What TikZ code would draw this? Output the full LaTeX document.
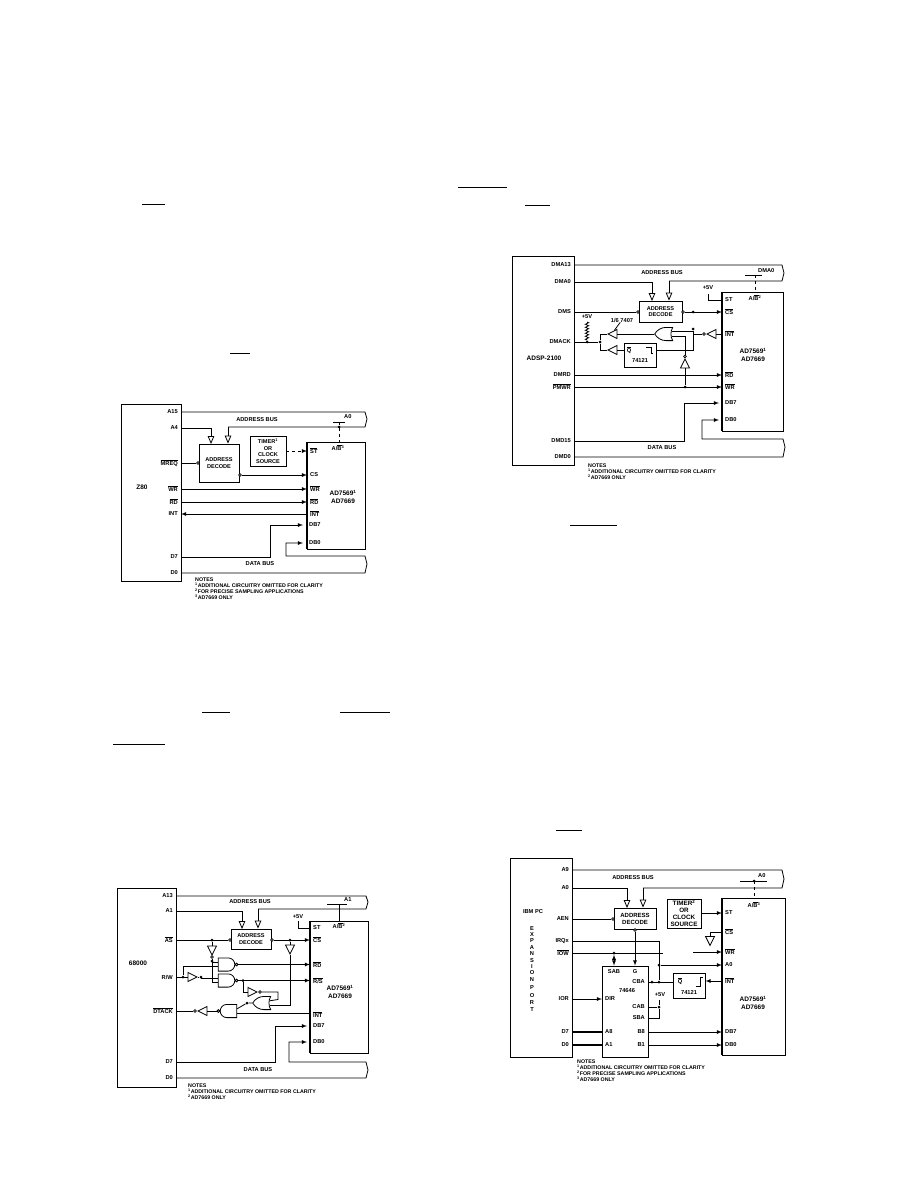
\documentclass[tikz,border=0pt]{standalone}
\usepackage{fontspec}
\setmainfont{Liberation Sans}
\usetikzlibrary{arrows,shapes,shapes.geometric,shapes.gates.logic.US,decorations.pathmorphing}
\newcommand{\ovl}[1]{$\overline{\mbox{#1}}$}

\begin{document}
\begin{tikzpicture}[
    x=1pt, y=-1pt, >=latex,
    box/.style={rectangle, draw, line width=0.9pt, inner sep=0pt, align=center, font=\bfseries\fontsize{5.6}{6.6}\selectfont},
    lab/.style={inner sep=0pt, align=center, font=\bfseries\fontsize{5.7}{6.4}\selectfont},
    cname/.style={inner sep=0pt, align=center, font=\bfseries\fontsize{6.5}{7.7}\selectfont},
    pinl/.style={label={[lab, xshift=-3pt]left:#1}},
    pinr/.style={label={[lab, xshift=3pt]right:#1}},
    wire/.style={line width=0.8pt},
    busin/.style={wire, -open triangle 45},
    dot/.style={circle, fill, inner sep=0pt, minimum size=3pt},
    bub/.style={circle, draw, fill=white, line width=0.7pt, inner sep=0pt, minimum size=2.8pt},
    buf/.style={isosceles triangle, isosceles triangle stretches, draw, line width=0.8pt, inner sep=0pt, minimum width=9pt, minimum height=9pt},
    gate/.style={draw, line width=0.8pt, inner sep=0pt, minimum width=14pt, minimum height=13pt, logic gate inputs=nn, logic gate inverted radius=1.4pt},
    notes/.style={anchor=north west, inner sep=0pt, align=left, font=\bfseries\fontsize{5.3}{5.9}\selectfont},
    frag/.style={line width=0.8pt}
  ]
    \useasboundingbox (0,0) rectangle (918,1188);
    \fill[white] (0,0) rectangle (918,1188);

    \draw[frag] (142,204) -- (165,204);
    \draw[frag] (458,187) -- (507,187);
    \draw[frag] (525,205) -- (550,205);
    \draw[frag] (230,353) -- (250,353);
    \draw[frag] (202,712) -- (230,712);
    \draw[frag] (340,712) -- (390,712);
    \draw[frag] (113,744) -- (165,744);
    \draw[frag] (570,525) -- (617,525);
    \draw[frag] (556,830) -- (582,830);

    \node[box, minimum width=60pt, minimum height=177pt] (zcpu) at (151,492.5) {};
    \node[box, minimum width=58pt, minimum height=107pt] (zad) at (336,495.5) {};
    \node[box, minimum width=40pt, minimum height=38pt] (zdec) at (219,463) {ADDRESS\\DECODE};
    \node[box, minimum width=36pt, minimum height=30pt] (ztimer) at (268,451) {TIMER\textsuperscript{1}\\OR\\CLOCK\\SOURCE};
    \node[cname] (zname) at (142,487) {Z80};
    \node[cname] (zadname) at (343,497) {AD7569\textsuperscript{1}\\AD7669};
    \node[lab] (zbusa) at (257,420) {ADDRESS BUS};
    \node[lab] (zbusd) at (260,564) {DATA BUS};
    \node[lab] (zab) at (338,448) {A/\ovl{B}\textsuperscript{3}};
    \node[notes] (znotes) at (195,578) {NOTES\\\textsuperscript{1}ADDITIONAL CIRCUITRY OMITTED FOR CLARITY\\\textsuperscript{2}FOR PRECISE SAMPLING APPLICATIONS\\\textsuperscript{3}AD7669 ONLY};
    \coordinate[pinl=A15] (zA15) at (181,412);
    \coordinate[pinl=A4] (zA4) at (181,428);
    \coordinate[pinl=\ovl{MREQ}] (zMREQ) at (181,463);
    \coordinate[pinl=\ovl{WR}] (zWRo) at (181,489);
    \coordinate[pinl=\ovl{RD}] (zRDo) at (181,502);
    \coordinate[pinl=INT] (zINTo) at (181,514);
    \coordinate[pinl=D7] (zD7) at (181,557);
    \coordinate[pinl=D0] (zD0) at (181,573);
    \coordinate[pinr=\ovl{ST}] (zST) at (307,451);
    \coordinate[pinr=CS] (zCS) at (307,475);
    \coordinate[pinr=\ovl{WR}] (zWR) at (307,489);
    \coordinate[pinr=\ovl{RD}] (zRD) at (307,502);
    \coordinate[pinr=\ovl{INT}] (zINT) at (307,514);
    \coordinate[label={[lab, xshift=6pt]right:DB7}] (zDB7) at (303,525);
    \coordinate[label={[lab, xshift=6pt]right:DB0}] (zDB0) at (303,543);
    \coordinate (zbt) at (365,412);
    \coordinate (zbb) at (365,427);
    \coordinate (zbl) at (228,427);
    \coordinate (zin) at (211,444);
    \coordinate (zdt) at (365,556);
    \coordinate (zdb) at (365,573);
    \coordinate (ztick) at (339,422);
    \node[lab, anchor=west] (ztickl) at (344,417) {A0};
    \node[bub] (zbub1) at (198,463) {};
    \node[bub] (zbub2) at (240,475) {};
    \draw[wire] (zA15) -- (zbt) -- ++(2,7) -- (zbb) -- (zbl);
    \draw[busin] (zA4) -| (zin);
    \draw[busin] (zbl) -- (zbl |- zdec.north);
    \draw[wire] ([xshift=-6pt]ztick) -- ([xshift=6pt]ztick);
    \draw[wire, dashed] (ztick) -- (ztick |- zad.north);
    \node[dot] (zdot) at (339,427) {};
    \draw[wire] (zMREQ) -- (zbub1);
    \draw[wire, ->, dashed] (ztimer.east |- zST) -- (zST);
    \draw[wire, ->] (zbub2) -- (zCS);
    \draw[wire, ->] (zWRo) -- (zWR);
    \draw[wire, ->] (zRDo) -- (zRD);
    \draw[wire, <-] (zINTo) -- (zINT);
    \draw[wire, ->] (zD7) -| (270,525) -- (zDB7);
    \draw[wire, <-] (zDB0) -| (286,556) -- (zdt) -- ++(2,8) -- (zdb) -- (zD0);
    \draw[line width=2pt] (zad.north west) -- (zad.south west);

    \node[box, minimum width=62pt, minimum height=209pt] (acpu) at (543,360.5) {};
    \node[box, minimum width=61pt, minimum height=139pt] (aad) at (752.5,361.5) {};
    \node[box, minimum width=43pt, minimum height=21pt] (adec) at (660.5,311.5) {ADDRESS\\DECODE};
    \node[box, minimum width=32pt, minimum height=24pt] (aone) at (640,355) {};
    \node[lab] (aonen) at (640,361) {74121};
    \node[lab] (aq) at (629,350) {\ovl{Q}};
    \draw[wire] (646,347) -- (651,347) -- (651,353) -- (653,353);
    \node[cname] (aname) at (544,358) {ADSP-2100};
    \node[cname] (aadname) at (753,355) {AD7569\textsuperscript{1}\\AD7669};
    \node[lab] (abusa) at (662,273) {ADDRESS BUS};
    \node[lab] (abusd) at (662,448) {DATA BUS};
    \node[lab] (aab) at (755,298) {A/\ovl{B}\textsuperscript{2}};
    \node[lab] (a5v) at (708,288) {+5V};
    \node[lab] (a5vb) at (587,317) {+5V};
    \node[lab] (a7407) at (622,320) {1/6 7407};
    \node[notes] (anotes) at (588,464) {NOTES\\\textsuperscript{1}ADDITIONAL CIRCUITRY OMITTED FOR CLARITY\\\textsuperscript{2}AD7669 ONLY};
    \coordinate[pinl=DMA13] (aA13) at (574,265);
    \coordinate[pinl=DMA0] (aA0) at (574,282);
    \coordinate[pinl=DMS] (aDMS) at (574,312);
    \coordinate[pinl=DMACK] (aACK) at (574,342);
    \coordinate[pinl=DMRD] (aDRD) at (574,375);
    \coordinate[pinl=\ovl{PMWR}] (aPWR) at (574,387);
    \coordinate[pinl=DMD15] (aD15) at (574,441);
    \coordinate[pinl=DMD0] (aD0) at (574,457);
    \coordinate[pinr=ST] (aST) at (722,300);
    \coordinate[pinr=\ovl{CS}] (aCS) at (722,312);
    \coordinate[pinr=\ovl{INT}] (aINT) at (722,334);
    \coordinate[pinr=\ovl{RD}] (aRD) at (722,375);
    \coordinate[pinr=\ovl{WR}] (aWR) at (722,387);
    \coordinate[label={[lab, xshift=6pt]right:DB7}] (aDB7) at (719,403);
    \coordinate[label={[lab, xshift=6pt]right:DB0}] (aDB0) at (719,420);
    \coordinate (abt) at (782,265);
    \coordinate (abb) at (782,281);
    \coordinate (abl) at (669,281);
    \coordinate (ain) at (652,301);
    \coordinate (adt) at (783,439);
    \coordinate (adb) at (783,457);
    \coordinate (atick) at (755,275);
    \node[lab, anchor=west] (atickl) at (758,271) {DMA0};
    \node[bub] (abub1) at (638,312) {};
    \node[bub] (abub2) at (683,312) {};
    \node[dot] (ad1) at (693,312) {};
    \node[dot] (ad2) at (587,342) {};
    \node[dot] (ad3) at (600,342) {};
    \node[dot] (ad4) at (693,329) {};
    \node[dot] (ad5) at (685,387) {};
    \node[buf, shape border rotate=180, anchor=apex] (abuf1) at (607,334) {};
    \node[buf, shape border rotate=180, anchor=apex] (abuf2) at (607,350) {};
    \node[buf, shape border rotate=180, anchor=apex] (abuf3) at (706,334) {};
    \node[bub] (abub3) at (704,334) {};
    \node[buf, shape border rotate=90, anchor=apex] (abuf4) at (685,358) {};
    \node[bub] (abub4) at (685,356.5) {};
    \node[or gate US, gate, rotate=180] (aor) at (665,334) {};
    \draw[wire] (aA13) -- (abt) -- ++(2,8) -- (abb) -- (abl);
    \draw[busin] (aA0) -| (ain);
    \draw[busin] (abl) -- (abl |- adec.north);
    \draw[wire] ([xshift=-10pt]atick) -- ([xshift=7pt]atick);
    \draw[wire, dashed] (atick) -- (atick |- aad.north);
    \draw[wire] (708,294) |- (aST);
    \draw[wire] (aDMS) -- (abub1);
    \draw[wire, ->] (abub2) -- (aCS);
    \draw[wire, decorate, decoration={zigzag, segment length=3pt, amplitude=1.6pt}] (587,322) -- (ad2);
    \draw[wire] (aACK) -- (ad3);
    \draw[wire] (ad3) |- (abuf1.apex);
    \draw[wire] (ad3) |- (abuf2.apex);
    \draw[wire] (abuf2.east) -- (aone.west |- abuf2.east);
    \draw[wire] (aor.output) -- (abuf1.east |- aor.output);
    \draw[wire] (aor.input 2) -- (ad4 |- aor.input 2);
    \draw[wire] (aor.input 1) -| (abub4);
    \draw[wire] (aone.east |- abuf2.east) -| (ad4);
    \draw[wire] (abub3) -- (693,334);
    \draw[wire] (abuf3.east) -- (aINT);
    \draw[wire] (abuf4.south) -- (ad5);
    \draw[wire, ->] (aDRD) -- (aRD);
    \draw[wire, ->] (aPWR) -- (aWR);
    \draw[wire] (a7407) -- (abuf1.north);
    \draw[wire, ->] (aD15) -| (684,403) -- (aDB7);
    \draw[wire, <-] (aDB0) -| (702,439) -- (adt) -- ++(2,8) -- (adb) -- (aD0);
    \draw[line width=1.3pt] (aad.north west) -- (aad.south west);

    \node[box, minimum width=59pt, minimum height=199pt] (mcpu) at (147,987.5) {};
    \node[box, minimum width=58pt, minimum height=132pt] (mad) at (339,987) {};
    \node[box, minimum width=40pt, minimum height=20pt] (mdec) at (251,939) {ADDRESS\\DECODE};
    \node[cname] (mname) at (138,963) {68000};
    \node[cname] (madname) at (340,992) {AD7569\textsuperscript{1}\\AD7669};
    \node[lab] (mbusa) at (250,902) {ADDRESS BUS};
    \node[lab] (mbusd) at (258,1070) {DATA BUS};
    \node[lab] (mab) at (339,926) {A/\ovl{B}\textsuperscript{2}};
    \node[lab] (m5v) at (298,917) {+5V};
    \node[notes] (mnotes) at (188,1084) {NOTES\\\textsuperscript{1}ADDITIONAL CIRCUITRY OMITTED FOR CLARITY\\\textsuperscript{2}AD7669 ONLY};
    \coordinate[pinl=A13] (mA13) at (176,896);
    \coordinate[pinl=A1] (mA1) at (176,911);
    \coordinate[pinl=\ovl{AS}] (mAS) at (176,940);
    \coordinate[pinl=R/W] (mRW) at (176,977);
    \coordinate[pinl=\ovl{DTACK}] (mDT) at (176,1011);
    \coordinate[pinl=D7] (mD7) at (176,1062);
    \coordinate[pinl=D0] (mD0) at (176,1078);
    \coordinate[pinr=ST] (mST) at (310,928);
    \coordinate[pinr=\ovl{CS}] (mCS) at (310,940);
    \coordinate[pinr=\ovl{RD}] (mRD) at (310,964.5);
    \coordinate[pinr=\ovl{R/S}] (mWR) at (310,980.5);
    \coordinate[pinr=\ovl{INT}] (mINT) at (310,1014.5);
    \coordinate[label={[lab, xshift=6pt]right:DB7}] (mDB7) at (307,1026);
    \coordinate[label={[lab, xshift=6pt]right:DB0}] (mDB0) at (307,1042);
    \coordinate (mbt) at (366,896);
    \coordinate (mbb) at (366,909);
    \coordinate (mbl) at (258,909);
    \coordinate (min) at (242,929);
    \coordinate (mdt) at (366,1062);
    \coordinate (mdb) at (366,1078);
    \coordinate (mtick) at (339,904);
    \node[lab, anchor=west] (mtickl) at (344,900) {A1};
    \node[bub] (mbub1) at (230,940) {};
    \node[bub] (mbub2) at (272,940) {};
    \node[dot] (md1) at (212,940) {};
    \node[dot] (md2) at (212,961) {};
    \node[dot] (md3) at (183,977) {};
    \node[dot] (md4) at (201,977) {};
    \node[dot] (md5) at (243,980.5) {};
    \node[dot] (md6) at (290,940) {};
    \node[dot] (md7) at (247,1003) {};
    \node[buf, shape border rotate=270, anchor=apex] (mbuf1) at (212,956) {};
    \node[bub] (mbub3) at (212,957) {};
    \node[buf, anchor=apex] (mbuf2) at (198,977) {};
    \node[buf, anchor=apex] (mbuf3) at (258,992) {};
    \node[bub] (mbub4) at (260,992) {};
    \node[buf, shape border rotate=270, anchor=apex] (mbuf4) at (290,955) {};
    \node[buf, shape border rotate=180, anchor=apex] (mbuf5) at (197,1011) {};
    \node[bub] (mbub5) at (195,1011) {};
    \node[nand gate US, gate] (mg1) at (226,964.5) {};
    \node[nand gate US, gate] (mg2) at (226,980.5) {};
    \node[or gate US, gate, rotate=180] (mg3) at (263,1003) {};
    \node[nand gate US, gate, rotate=180] (mg4) at (229,1011) {};
    \draw[wire] (mA13) -- (mbt) -- ++(2,6) -- (mbb) -- (mbl);
    \draw[busin] (mA1) -| (min);
    \draw[busin] (mbl) -- (mbl |- mdec.north);
    \draw[wire] ([xshift=-12pt]mtick) -- ([xshift=8pt]mtick);
    \draw[wire] (mtick) -- (mtick |- mad.north);
    \draw[wire] (298,921) |- (mST);
    \draw[wire] (mAS) -- (mbub1);
    \draw[wire, ->] (mbub2) -- (mCS);
    \draw[wire] (md1) -- (mbuf1.north);
    \draw[wire] (mbub3) |- (mg2.input 2);
    \draw[wire] (md2 |- mg1.input 1) -- (mg1.input 1);
    \draw[wire] (mRW) -- (mbuf2.west);
    \draw[wire] (mbuf2.apex) -- (md4);
    \draw[wire] (md4 |- mg2.input 1) -- (mg2.input 1);
    \draw[wire] (md4) -- (md4 |- mg2.input 1);
    \draw[wire] (md3) |- (mg1.input 2);
    \draw[wire, ->] (mg1.output) -- (mRD |- mg1.output);
    \draw[wire, ->] (mg2.output) -- (mWR |- mg2.output);
    \draw[wire] (md5) |- (mbuf3.west);
    \draw[wire] (mbub4) -| (278,999.5) -- (mg3.input 2);
    \draw[wire] (md6) -- (mbuf4.north);
    \draw[wire] (mbuf4.apex) |- (mg3.input 1);
    \draw[wire] (mg3.output) -- (md7) -- (mg4.input 2);
    \draw[wire] (mg4.input 1) -- (mINT |- mg4.input 1);
    \draw[wire] (mg4.output) -- (mbuf5.east);
    \draw[wire] (mDT) -- (mbub5);
    \draw[wire, ->] (mD7) -| (275,1026) -- (mDB7);
    \draw[wire, <-] (mDB0) -| (289,1062) -- (mdt) -- ++(2,8) -- (mdb) -- (mD0);
    \draw[line width=1.3pt] (mad.north west) -- (mad.south west);

    \node[box, minimum width=62pt, minimum height=199pt] (pcpu) at (541,957.5) {};
    \node[box, minimum width=63pt, minimum height=157pt] (pad) at (753.5,976.5) {};
    \node[box, minimum width=46pt, minimum height=91pt] (pbuf) at (625,1011.5) {};
    \node[box, minimum width=42pt, minimum height=21pt, font=\bfseries\fontsize{6}{7}\selectfont] (pdec) at (635,918.5) {ADDRESS\\DECODE};
    \node[box, minimum width=34pt, minimum height=29pt, font=\bfseries\fontsize{6.3}{7}\selectfont] (ptimer) at (684,913.5) {TIMER\textsuperscript{2}\\OR\\CLOCK\\SOURCE};
    \node[box, minimum width=32pt, minimum height=25pt] (pone) at (689,985.5) {};
    \node[lab] (ponen) at (689,992) {74121};
    \node[lab] (pq) at (680,981) {\ovl{Q}};
    \draw[wire] (696,986) -- (700,986) -- (700,977) -- (703,977);
    \node[lab] (pname) at (533,912) {IBM PC};
    \node[lab] (pexp) at (532,969) {E\\X\\P\\A\\N\\S\\I\\O\\N\\[2pt]P\\[1pt]O\\[1pt]R\\[1pt]T};
    \node[cname] (padname) at (753,1003) {AD7569\textsuperscript{1}\\AD7669};
    \node[lab] (pbusa) at (633,878) {ADDRESS BUS};
    \node[lab] (pab) at (754,905) {A/\ovl{B}\textsuperscript{3}};
    \node[lab] (p5v) at (660,995) {+5V};
    \node[lab] (pl74) at (627,991) {74646};
    \node[lab] (plsab) at (614,972) {SAB};
    \node[lab] (plg) at (635,972) {G};
    \node[notes] (pnotes) at (577,1060) {NOTES\\\textsuperscript{1}ADDITIONAL CIRCUITRY OMITTED FOR CLARITY\\\textsuperscript{2}FOR PRECISE SAMPLING APPLICATIONS\\\textsuperscript{3}AD7669 ONLY};
    \coordinate[pinl=A9] (pA9) at (572,870);
    \coordinate[pinl=A0] (pA0) at (572,888);
    \coordinate[pinl=AEN] (pAEN) at (572,919);
    \coordinate[pinl=IRQx] (pIRQ) at (572,941);
    \coordinate[pinl=\ovl{IOW}] (pIOW) at (572,953);
    \coordinate[pinl=IOR] (pIOR) at (572,999);
    \coordinate[pinl=D7] (pD7) at (572,1032);
    \coordinate[pinl=D0] (pD0) at (572,1045);
    \coordinate[pinr=ST] (pST) at (722,913);
    \coordinate[pinr=\ovl{CS}] (pCS) at (722,932);
    \coordinate[pinr=\ovl{WR}] (pWR) at (722,952);
    \coordinate[pinr=A0] (pAa) at (722,965);
    \coordinate[pinr=\ovl{INT}] (pINT) at (722,981);
    \coordinate[pinr=DB7] (pDB7) at (722,1032);
    \coordinate[pinr=DB0] (pDB0) at (722,1045);
    \coordinate[pinr=DIR] (pDIR) at (602,999);
    \coordinate[pinr=A8] (pA8) at (602,1032);
    \coordinate[pinr=A1] (pA1) at (602,1045);
    \coordinate[pinl=CBA] (pCBA) at (648,982);
    \coordinate[pinl=CAB] (pCAB) at (648,1007);
    \coordinate[pinl=SBA] (pSBA) at (648,1018);
    \coordinate[pinl=B8] (pB8) at (648,1032);
    \coordinate[pinl=B1] (pB1) at (648,1045);
    \coordinate (pbt) at (782,870);
    \coordinate (pbb) at (782,888);
    \coordinate (pbl) at (643,888);
    \coordinate (pin) at (627,908);
    \coordinate (ptick) at (754,881);
    \node[lab, anchor=west] (ptickl) at (758,876) {A0};
    \node[bub] (pbub1) at (613,919) {};
    \node[bub] (pbub2) at (635,930) {};
    \node[dot] (pd1) at (614,953) {};
    \node[dot] (pd2) at (659,965) {};
    \node[dot] (pd3) at (659,982) {};
    \node[dot] (pd4) at (659,1007) {};
    \node[dot] (pd5) at (652,982) {};
    \node[buf, shape border rotate=270, anchor=north] (pgnd) at (710,936) {};
    \draw[wire] (pA9) -- (pbt) -- ++(2,9) -- (pbb) -- (pbl);
    \draw[busin] (pA0) -| (pin);
    \draw[busin] (pbl) -- (pbl |- pdec.north);
    \draw[wire] ([xshift=-14pt]ptick) -- ([xshift=13pt]ptick);
    \draw[wire, dashed] (ptick) -- (ptick |- pad.north);
    \node[dot] (pd6) at (754,881) {};
    \draw[wire] (pAEN) -- (pbub1);
    \draw[wire, ->] (pbub2) -- (pbuf.north -| pbub2);
    \draw[wire] (pIRQ) -| (pd3);
    \draw[wire] (pIOW) -- (663,953);
    \draw[wire, ->] (693,952) -- (pWR);
    \draw[wire, <->] (pd1) -- (pbuf.north -| pd1);
    \draw[wire, ->] (pd2) -- (pAa);
    \draw[wire] (pCBA) -- (pone.west |- pCBA);
    \draw[wire, <-] (pone.east |- pINT) -- (pINT);
    \draw[wire, ->] (ptimer.east |- pST) -- (pST);
    \draw[wire] (pCS) -| (pgnd.north);
    \draw[wire] (pCAB) -- (pd4);
    \draw[wire] (pSBA) -| (pd4);
    \draw[wire] (pd4) -- (659,1000);
    \draw[wire, ->] (pIOR) -- (pDIR);
    \draw[line width=1.5pt] (pD7) -- (pA8);
    \draw[line width=1.5pt] (pD0) -- (pA1);
    \draw[wire, ->] (pB8) -- (pDB7);
    \draw[wire, ->] (pB1) -- (pDB0);
    \draw[line width=1.3pt] (pad.north west) -- (pad.south west);
  \end{tikzpicture}
\end{document}
